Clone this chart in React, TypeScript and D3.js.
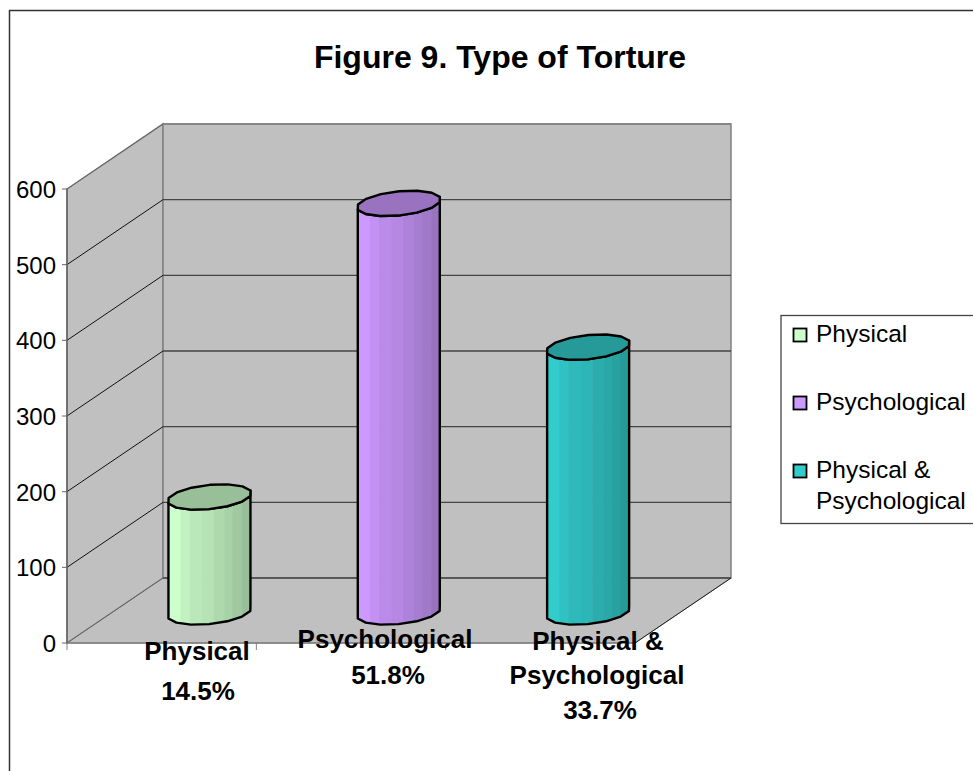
import React from "react";
import * as d3 from "d3";

const categories = ["Physical", "Psychological", "Physical & Psychological"];
const values = [152, 540, 350];
const colors = ["#CCFFCC", "#CC99FF", "#33CCCC"];
const yTicks = [0, 100, 200, 300, 400, 500, 600];
const barLabels = [
  [{ t: "Physical", x: 197, y: 660 }, { t: "14.5%", x: 198, y: 700 }],
  [{ t: "Psychological", x: 385, y: 648 }, { t: "51.8%", x: 388, y: 684 }],
  [{ t: "Physical &", x: 598, y: 650 }, { t: "Psychological", x: 597, y: 684 }, { t: "33.7%", x: 600, y: 719 }],
];
const legendLines = [["Physical"], ["Psychological"], ["Physical &", "Psychological"]];
const legendY = [342, 410, 478];
const bandEdges = [0, 0.155, 0.265, 0.415, 0.55, 0.68, 0.775, 0.885, 1];
const bandShade = [0, 0.05, 0.09, 0.11, 0.15, 0.18, 0.21, 0.25];

const FONT = "'Liberation Sans', Arial, sans-serif";
const x0 = 67, x1 = 635, dx = 96, dy = -65;
const y = d3.scaleLinear().domain([0, 600]).range([643, 189]);
const x = d3.scaleBand<number>().domain([0, 1, 2]).range([x0, x1]);
const DEPTH = 0.477;
const BAR_HALF = 41;

function shade(c: string, k: number) {
  return d3.interpolateRgb(c, "#000000")(k);
}

function ell(cx: number, cy: number, from: number, to: number, n: number) {
  const ux = BAR_HALF, uy = -6.5, vx = -9, vy = -11;
  return d3.range(n + 1).map((i) => {
    const t = from + ((to - from) * i) / n;
    return [cx + ux * Math.cos(t) + vx * Math.sin(t), cy + uy * Math.cos(t) + vy * Math.sin(t)] as [number, number];
  });
}

const line = d3.line().curve(d3.curveLinear);

function Bar({ i }: { i: number }) {
  const cx = (x(i) as number) + x.bandwidth() / 2 + dx * DEPTH + 2;
  const cb = y(0) + dy * DEPTH;
  const ct = y(values[i]) + dy * DEPTH;
  const c = colors[i];
  const bottom = ell(cx, cb, 0, -Math.PI, 7);
  const topFull = ell(cx, ct, 0, Math.PI * 2, 14);
  const bodyPts = [...bottom, ...ell(cx, ct, -Math.PI, 0, 7)];
  const body = line(bodyPts) + "Z";
  const id = `clip${i}`;
  const L = cx - BAR_HALF - 1, W = 2 * BAR_HALF + 2;
  return (
    <g>
      <clipPath id={id}><path d={body} /></clipPath>
      <g clipPath={`url(#${id})`}>
        {bandShade.map((s, k) => (
          <rect key={k} x={L + bandEdges[k] * W} width={(bandEdges[k + 1] - bandEdges[k]) * W + 0.5}
            y={ct - 30} height={cb - ct + 60} fill={shade(c, s)} />
        ))}
      </g>
      <path d={body} fill="none" stroke="#000" strokeWidth={2.4} strokeLinejoin="round" />
      <path d={line(topFull) + "Z"} fill={shade(c, 0.25)} stroke="#000" strokeWidth={2.4} strokeLinejoin="round" />
    </g>
  );
}

export default function App() {
  return (
    <svg width={973} height={771} style={{ position: "absolute", left: 0, top: 0, display: "block", background: "#fff" }} fontFamily={FONT}>
      <rect x={9.5} y={10.5} width={1000} height={800} fill="#fff" stroke="#333" strokeWidth={1.5} />
      <text x={500} y={68} textAnchor="middle" fontSize={32} fontWeight="bold" fill="#000">Figure 9. Type of Torture</text>

      <polygon points={`${x0},${y(600)} ${x0 + dx},${y(600) + dy} ${x0 + dx},${y(0) + dy} ${x0},${y(0)}`} fill="#C0C0C0" stroke="#808080" strokeWidth={1.5} />
      <rect x={x0 + dx} y={y(600) + dy} width={x1 - x0} height={y(0) - y(600)} fill="#C0C0C0" stroke="#808080" strokeWidth={1.5} />
      <polygon points={`${x0},${y(0)} ${x1},${y(0)} ${x1 + dx},${y(0) + dy} ${x0 + dx},${y(0) + dy}`} fill="#C0C0C0" stroke="#808080" strokeWidth={1} />
      {yTicks.map((v) => (
        <g key={v}>
          <line x1={x0} y1={y(v)} x2={x0 + dx} y2={y(v) + dy} stroke={v === 0 || v === 600 ? "#666" : "#111"} strokeWidth={1} />
          <line x1={x0 + dx} y1={y(v) + dy} x2={x1 + dx} y2={y(v) + dy} stroke={v === 600 ? "#808080" : "#444"} strokeWidth={1.3} />
          <line x1={x0 - 5} y1={y(v)} x2={x0} y2={y(v)} stroke="#666" strokeWidth={1} />
          <text x={56} y={y(v) + 9} textAnchor="end" fontSize={24} fill="#000">{v}</text>
        </g>
      ))}
      <line x1={x1} y1={y(0)} x2={x1 + dx} y2={y(0) + dy} stroke="#222" strokeWidth={1} />
      <line x1={x0} y1={y(0)} x2={x1} y2={y(0)} stroke="#808080" strokeWidth={1.5} />
      <line x1={x0} y1={y(0)} x2={x0} y2={y(600)} stroke="#666" strokeWidth={1.5} />
      {[0, 1, 2].map((i) => (
        <line key={i} x1={x(i) as number} y1={y(0)} x2={x(i) as number} y2={y(0) + 7} stroke="#808080" />
      ))}
      <line x1={x1} y1={y(0)} x2={x1} y2={y(0) + 7} stroke="#808080" />

      {categories.map((_, i) => <Bar key={i} i={i} />)}

      {barLabels.flat().map((l, i) => (
        <text key={i} x={l.x} y={l.y} textAnchor="middle" fontSize={26} fontWeight="bold" fill="#000">{l.t}</text>
      ))}

      <rect x={781} y={315.5} width={300} height={208} fill="#fff" stroke="#444" strokeWidth={1.3} />
      {categories.map((_, i) => (
        <g key={i}>
          <rect x={793.5} y={legendY[i] - 13.5} width={13} height={13} fill={colors[i]} stroke="#000" strokeWidth={1.8} />
          {legendLines[i].map((t, k) => (
            <text key={k} x={816} y={legendY[i] + k * 31} fontSize={24.5} fill="#000">{t}</text>
          ))}
        </g>
      ))}
    </svg>
  );
}
